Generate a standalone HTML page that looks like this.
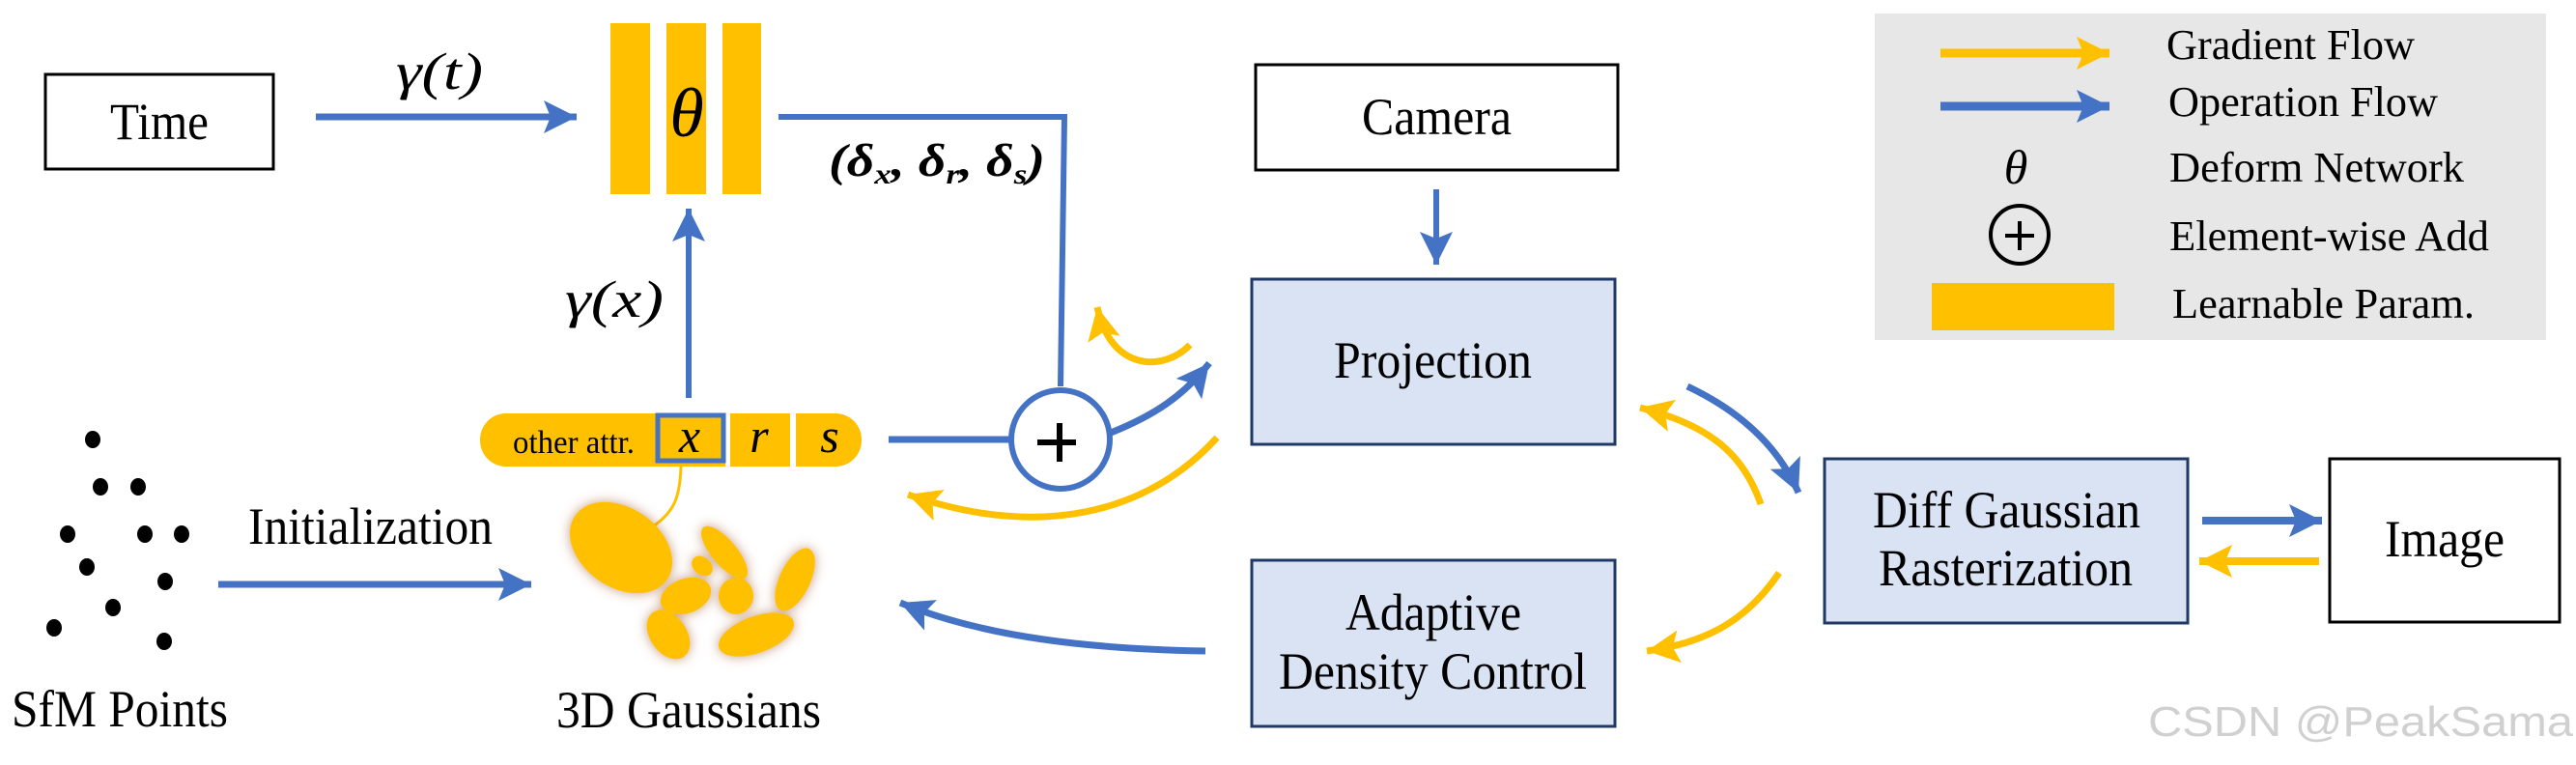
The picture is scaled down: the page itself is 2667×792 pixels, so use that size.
<!DOCTYPE html>
<html><head><meta charset="utf-8"><style>
html,body{margin:0;padding:0;background:#fff;}
svg{display:block;}
.t{font-family:"Liberation Serif","DejaVu Serif","Noto Serif CJK SC",serif;fill:#000;}
.w{font-family:"Liberation Sans","DejaVu Sans",sans-serif;fill:#d0d0d0;}
</style></head><body>
<svg width="2667" height="792" viewBox="0 0 2667 792" xmlns="http://www.w3.org/2000/svg">
<defs>
<marker id="ab" markerUnits="userSpaceOnUse" markerWidth="50" markerHeight="50" refX="34" refY="17" orient="auto">
<path d="M0,0 L34,17 L0,34 L7,17 Z" fill="#4472c4"/></marker>
<marker id="ay" markerUnits="userSpaceOnUse" markerWidth="50" markerHeight="50" refX="34" refY="17" orient="auto">
<path d="M0,0 L34,17 L0,34 L7,17 Z" fill="#ffc000"/></marker>
<filter id="glow" x="-30%" y="-30%" width="160%" height="160%">
<feGaussianBlur in="SourceAlpha" stdDeviation="6" result="b"/>
<feFlood flood-color="#b0704a" flood-opacity="0.7"/>
<feComposite in2="b" operator="in" result="s"/>
<feMerge><feMergeNode in="s"/><feMergeNode in="SourceGraphic"/></feMerge>
</filter>
</defs>

<!-- Legend -->
<rect x="1941" y="14" width="695" height="338" fill="#e7e7e7"/>
<line x1="2009" y1="55" x2="2184" y2="55" stroke="#ffc000" stroke-width="9" marker-end="url(#ay)"/>
<line x1="2009" y1="110" x2="2184" y2="110" stroke="#4472c4" stroke-width="9" marker-end="url(#ab)"/>
<g class="t">
<text class="t" x="2087" y="190" font-size="50" font-style="italic" text-anchor="middle">θ</text>
<text class="t" x="2243" y="61" font-size="44" textLength="257" lengthAdjust="spacingAndGlyphs">Gradient Flow</text>
<text class="t" x="2245" y="120" font-size="44" textLength="279" lengthAdjust="spacingAndGlyphs">Operation Flow</text>
<text class="t" x="2246" y="188" font-size="44" textLength="305" lengthAdjust="spacingAndGlyphs">Deform Network</text>
<text class="t" x="2246" y="259" font-size="44" textLength="331" lengthAdjust="spacingAndGlyphs">Element-wise Add</text>
<text class="t" x="2249" y="329" font-size="44" textLength="313" lengthAdjust="spacingAndGlyphs">Learnable Param.</text>
</g>
<circle cx="2091" cy="243" r="30" fill="none" stroke="#000" stroke-width="4"/>
<line x1="2076" y1="244" x2="2106" y2="244" stroke="#000" stroke-width="4"/>
<line x1="2091" y1="229" x2="2091" y2="259" stroke="#000" stroke-width="4"/>
<rect x="2000" y="293" width="189" height="49" fill="#ffc000"/>

<!-- Time -->
<rect x="47" y="77" width="236" height="98" fill="#fff" stroke="#000" stroke-width="3"/>
<text class="t" x="114" y="144" font-size="54" textLength="102" lengthAdjust="spacingAndGlyphs">Time</text>
<line x1="327" y1="121" x2="597" y2="121" stroke="#4472c4" stroke-width="7" marker-end="url(#ab)"/>
<text class="t" x="410" y="92" font-size="54" font-style="italic" textLength="90" lengthAdjust="spacingAndGlyphs">γ(t)</text>

<!-- theta bars -->
<rect x="632" y="24" width="41" height="177" fill="#ffc000"/>
<rect x="690" y="24" width="41" height="177" fill="#ffc000"/>
<rect x="748" y="24" width="40" height="177" fill="#ffc000"/>
<text class="t" x="711" y="141" font-size="72" font-style="italic" text-anchor="middle">θ</text>

<!-- output line -->
<polyline points="806,121 1102,121 1098,400" fill="none" stroke="#4472c4" stroke-width="6"/>
<text class="t" x="858" y="182" font-size="48" font-style="italic" font-weight="bold" textLength="224" lengthAdjust="spacingAndGlyphs">(δ<tspan font-size="30" dy="8">x</tspan><tspan dy="-8">, δ</tspan><tspan font-size="30" dy="8">r</tspan><tspan dy="-8">, δ</tspan><tspan font-size="30" dy="8">s</tspan><tspan dy="-8">)</tspan></text>

<!-- gamma(x) -->
<line x1="713" y1="412" x2="713" y2="216" stroke="#4472c4" stroke-width="6" marker-end="url(#ab)"/>
<text class="t" x="585" y="328" font-size="54" font-style="italic" textLength="102" lengthAdjust="spacingAndGlyphs">γ(x)</text>

<!-- attribute bar -->
<rect x="497" y="428" width="395" height="55" rx="27" fill="#ffc000"/>
<rect x="751" y="428" width="5" height="55" fill="#fff"/>
<rect x="818" y="428" width="6" height="55" fill="#fff"/>
<rect x="681" y="430" width="68" height="47" fill="none" stroke="#4472c4" stroke-width="5"/>
<text class="t" x="531" y="469" font-size="34" textLength="126" lengthAdjust="spacingAndGlyphs">other attr.</text>
<text class="t" x="714" y="468" font-size="50" font-style="italic" text-anchor="middle">x</text>
<text class="t" x="786" y="468" font-size="50" font-style="italic" text-anchor="middle">r</text>
<text class="t" x="859" y="468" font-size="50" font-style="italic" text-anchor="middle">s</text>
<path d="M705,483 C704,515 698,530 676,545" fill="none" stroke="#ffc000" stroke-width="3"/>

<!-- blobs -->
<g fill="#ffc000" filter="url(#glow)">
<ellipse cx="643" cy="567" rx="58" ry="41" transform="rotate(35 643 567)"/>
<ellipse cx="750" cy="572" rx="34" ry="13" transform="rotate(50 750 572)"/>
<ellipse cx="727" cy="586" rx="12" ry="9" transform="rotate(40 727 586)"/>
<ellipse cx="823" cy="600" rx="16" ry="35" transform="rotate(25 823 600)"/>
<ellipse cx="710" cy="617" rx="27" ry="18" transform="rotate(-20 710 617)"/>
<ellipse cx="762" cy="617" rx="18" ry="19"/>
<ellipse cx="692" cy="657" rx="28" ry="19" transform="rotate(55 692 657)"/>
<ellipse cx="783" cy="657" rx="41" ry="19" transform="rotate(-20 783 657)"/>
</g>

<!-- plus circle -->
<line x1="920" y1="455" x2="1046" y2="455" stroke="#4472c4" stroke-width="7"/>
<circle cx="1098" cy="455" r="51" fill="#fff" stroke="#4472c4" stroke-width="6"/>
<line x1="1074" y1="458" x2="1114" y2="458" stroke="#000" stroke-width="6"/>
<line x1="1097" y1="438" x2="1097" y2="478" stroke="#000" stroke-width="6"/>

<!-- curves near plus -->
<path d="M1232,357 C1205,385 1150,385 1136,318" fill="none" stroke="#ffc000" stroke-width="7" marker-end="url(#ay)"/>
<path d="M1150,448 C1195,430 1225,410 1252,376" fill="none" stroke="#4472c4" stroke-width="7" marker-end="url(#ab)"/>
<path d="M1260,453 C1190,530 1080,560 940,512" fill="none" stroke="#ffc000" stroke-width="7" marker-end="url(#ay)"/>
<path d="M1248,674 C1130,672 1020,660 932,624" fill="none" stroke="#4472c4" stroke-width="7" marker-end="url(#ab)"/>

<!-- SfM -->
<g fill="#000">
<ellipse cx="96" cy="455" rx="8" ry="9"/><ellipse cx="104" cy="504" rx="8" ry="9"/><ellipse cx="143" cy="504" rx="8" ry="9"/>
<ellipse cx="70" cy="553" rx="8" ry="9"/><ellipse cx="150" cy="553" rx="8" ry="9"/><ellipse cx="188" cy="553" rx="8" ry="9"/>
<ellipse cx="90" cy="587" rx="8" ry="9"/><ellipse cx="171" cy="602" rx="8" ry="9"/><ellipse cx="117" cy="629" rx="8" ry="9"/>
<ellipse cx="56" cy="650" rx="8" ry="9"/><ellipse cx="170" cy="664" rx="8" ry="9"/>
</g>
<text class="t" x="12" y="752" font-size="54" textLength="224" lengthAdjust="spacingAndGlyphs">SfM Points</text>
<text class="t" x="257" y="563" font-size="54" textLength="253" lengthAdjust="spacingAndGlyphs">Initialization</text>
<line x1="226" y1="605" x2="550" y2="605" stroke="#4472c4" stroke-width="7" marker-end="url(#ab)"/>
<text class="t" x="576" y="753" font-size="54" textLength="274" lengthAdjust="spacingAndGlyphs">3D Gaussians</text>

<!-- Camera -->
<rect x="1300" y="67" width="375" height="109" fill="#fff" stroke="#000" stroke-width="3"/>
<text class="t" x="1410" y="139" font-size="54" textLength="155" lengthAdjust="spacingAndGlyphs">Camera</text>
<line x1="1487" y1="196" x2="1487" y2="274" stroke="#4472c4" stroke-width="6" marker-end="url(#ab)"/>

<!-- Projection -->
<rect x="1296" y="289" width="376" height="171" fill="#dae3f3" stroke="#1f3864" stroke-width="3"/>
<text class="t" x="1381" y="391" font-size="54" textLength="205" lengthAdjust="spacingAndGlyphs">Projection</text>

<!-- Adaptive -->
<rect x="1296" y="580" width="376" height="172" fill="#dae3f3" stroke="#1f3864" stroke-width="3"/>
<text class="t" x="1393" y="652" font-size="54" textLength="182" lengthAdjust="spacingAndGlyphs">Adaptive</text>
<text class="t" x="1324" y="713" font-size="54" textLength="319" lengthAdjust="spacingAndGlyphs">Density Control</text>

<!-- right curves -->
<path d="M1747,400 C1800,425 1840,460 1862,510" fill="none" stroke="#4472c4" stroke-width="7" marker-end="url(#ab)"/>
<path d="M1823,522 C1805,470 1770,440 1698,422" fill="none" stroke="#ffc000" stroke-width="7" marker-end="url(#ay)"/>
<path d="M1842,593 C1810,640 1770,665 1705,674" fill="none" stroke="#ffc000" stroke-width="7" marker-end="url(#ay)"/>

<!-- Diff Gaussian -->
<rect x="1889" y="475" width="376" height="170" fill="#dae3f3" stroke="#1f3864" stroke-width="3"/>
<text class="t" x="1939" y="546" font-size="54" textLength="277" lengthAdjust="spacingAndGlyphs">Diff Gaussian</text>
<text class="t" x="1945" y="606" font-size="54" textLength="263" lengthAdjust="spacingAndGlyphs">Rasterization</text>
<line x1="2280" y1="539" x2="2404" y2="539" stroke="#4472c4" stroke-width="8" marker-end="url(#ab)"/>
<line x1="2401" y1="581" x2="2277" y2="581" stroke="#ffc000" stroke-width="8" marker-end="url(#ay)"/>

<!-- Image -->
<rect x="2412" y="475" width="238" height="169" fill="#fff" stroke="#000" stroke-width="3"/>
<text class="t" x="2469" y="576" font-size="54" textLength="124" lengthAdjust="spacingAndGlyphs">Image</text>

<!-- watermark -->
<text class="w" x="2224" y="762" font-size="44" textLength="440" lengthAdjust="spacingAndGlyphs">CSDN @PeakSama</text>
</svg>
</body></html>
